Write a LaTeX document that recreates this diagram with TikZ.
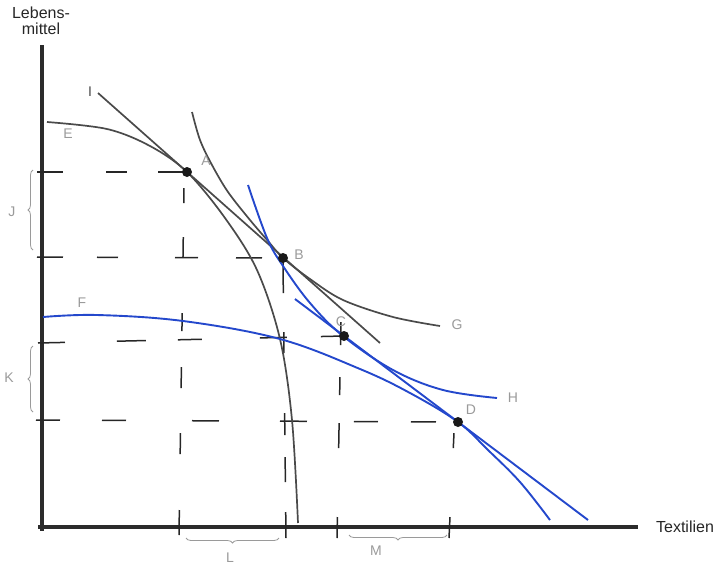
\documentclass[tikz,border=0pt]{standalone}
\usepackage{fontspec}
\setmainfont{Liberation Sans}
\usetikzlibrary{decorations.pathreplacing}
\definecolor{axiscol}{HTML}{2B2B2B}
\definecolor{curvecol}{HTML}{4A4A4A}
\definecolor{bluecol}{HTML}{2448CC}
\definecolor{labcol}{HTML}{9A9A9A}
\begin{document}
\begin{tikzpicture}[x=1pt,y=-1pt,
  axisline/.style={line width=3.6pt, color=axiscol},
  darkcurve/.style={line width=1.7pt, color=curvecol},
  bluecurve/.style={line width=1.9pt, color=bluecol},
  guide/.style={line width=1.5pt, color=black!85},
  dot/.style={circle, fill=black!90, inner sep=0pt, minimum size=10pt},
  lab/.style={text=labcol, font=\fontsize{14}{14}\selectfont, inner sep=0pt},
  axlab/.style={text=black!85, font=\fontsize{16}{16}\selectfont, align=center, inner sep=0pt},
  bracestyle/.style={decorate, decoration={brace, amplitude=5pt}, line width=0.8pt, color=labcol}
]
\useasboundingbox (0,0) rectangle (724,571);

% points
\coordinate (A) at (187,172);
\coordinate (B) at (283,258);
\coordinate (C) at (344,336);
\coordinate (D) at (458,422);

% axes
\coordinate (ytop) at (42,45);
\coordinate (ybot) at (42,531);
\coordinate (xleft) at (38,527);
\coordinate (xright) at (638,527);
\draw[axisline] (ytop) -- (ybot);
\draw[axisline] (xleft) -- (xright);

% horizontal guides
\coordinate (hA) at (37,172);
\coordinate (hB) at (37,257);
\coordinate (hC) at (38,343);
\coordinate (hD) at (36,420);
\draw[guide, dash pattern=on 26pt off 43pt on 21pt off 31pt] (hA) -- (A);
\draw[guide, dash pattern=on 26pt off 34pt on 21pt off 57pt on 23pt off 38pt on 26pt off 30pt] (hB) -- (B);
\draw[guide, dash pattern=on 27pt off 52pt on 29pt off 32pt on 24pt off 58pt on 27pt off 34pt on 30pt off 10pt] (hC) -- (C);
\draw[guide, dash pattern=on 24pt off 42pt on 24pt off 66pt on 27pt off 61pt on 27pt off 47pt on 24pt off 33pt on 25pt off 30pt] (hD) -- (D);

% vertical guides
\coordinate (vA1) at (179,535);
\coordinate (vA2) at (184,187);
\coordinate (vB1) at (286,538);
\coordinate (vB2) at (283,262);
\coordinate (vC1) at (337,538);
\coordinate (vC2) at (341,322);
\coordinate (vD1) at (449,538);
\coordinate (vD2) at (454,433);
\draw[guide, dash pattern=on 25pt off 56pt on 21pt off 45pt on 21pt off 36pt on 18pt off 56pt on 20pt off 34pt on 15pt off 20pt] (vA1) -- (vA2);
\draw[guide, dash pattern=on 26pt off 30pt on 25pt off 22pt on 22pt off 60pt on 21pt off 39pt on 33pt off 10pt] (vB1) -- (vB2);
\draw[guide, dash pattern=on 21pt off 69pt on 25pt off 28pt on 18pt off 32pt on 23pt off 5pt] (vC1) -- (vC2);
\draw[guide, dash pattern=on 21pt off 69pt on 15pt off 5pt] (vD1) -- (vD2);

% curve E (old transformation curve)
\draw[darkcurve] plot[smooth, tension=0.55] coordinates {(47,122) (107,129) (150,146) (187,172) (225,218) (257,270) (280,339) (292,420) (298,523)};
% line I (old price line)
\coordinate (I1) at (98,93);
\coordinate (I2) at (380,343);
\draw[darkcurve] (I1) -- (I2);
% curve G (old indifference curve)
\draw[darkcurve] plot[smooth, tension=0.55] coordinates {(192,112) (200,140) (212,165) (228,192) (250,220) (268,241) (283,258) (310,279) (343,300) (393,317) (440,326)};

% curve F (new transformation curve)
\draw[bluecurve] plot[smooth, tension=0.6] coordinates {(43,317) (97,315) (183,321) (280,339) (360,369) (410,393) (458,422) (488,450) (520,482) (550,520)};
% curve H (new indifference curve)
\draw[bluecurve] plot[smooth, tension=0.6] coordinates {(248,185) (267,238) (283,266) (310,303) (343,336) (393,370) (443,390) (497,398)};
% new price line
\coordinate (T1) at (295,299);
\coordinate (T2) at (588,520);
\draw[bluecurve] (T1) -- (T2);

% dots
\node[dot] (dA) at (A) {};
\node[dot] (dB) at (B) {};
\node[dot] (dC) at (C) {};
\node[dot] (dD) at (D) {};

% braces
\coordinate (jb) at (33,250);
\coordinate (jt) at (33,170);
\coordinate (kb) at (33,412);
\coordinate (kt) at (33,346);
\coordinate (lr) at (279,538);
\coordinate (ll) at (186,538);
\coordinate (mr) at (447,535);
\coordinate (ml) at (349,535);
\draw[bracestyle] (jb) -- (jt);
\draw[bracestyle] (kb) -- (kt);
\draw[bracestyle] (lr) -- (ll);
\draw[bracestyle] (mr) -- (ml);

% labels
\node[axlab] (ylab) at (41,21) {Lebens-\\mittel};
\node[axlab] (xlab) at (685,527) {Textilien};
\node[lab, text=curvecol] (lI) at (90,92) {I};
\node[lab] (lE) at (68,134) {E};
\node[lab] (lA) at (206,161) {A};
\node[lab] (lB) at (299,255) {B};
\node[lab] (lC) at (341,322) {C};
\node[lab] (lD) at (471,410) {D};
\node[lab] (lF) at (82,303) {F};
\node[lab] (lG) at (457,325) {G};
\node[lab] (lH) at (513,398) {H};
\node[lab] (lJ) at (12,212) {J};
\node[lab] (lK) at (9,378) {K};
\node[lab] (lL) at (230,558) {L};
\node[lab] (lM) at (376,551) {M};
\end{tikzpicture}
\end{document}
